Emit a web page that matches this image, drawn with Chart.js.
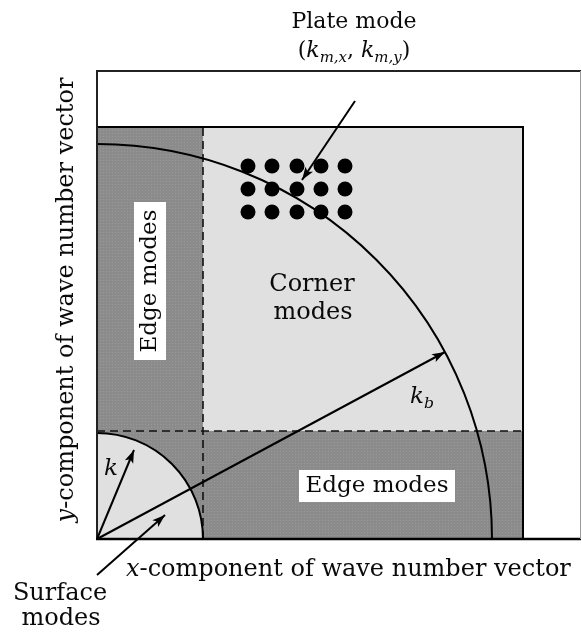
<!DOCTYPE html>
<html>
<head>
<meta charset="utf-8">
<script src="https://cdn.jsdelivr.net/npm/chart.js@4/dist/chart.umd.min.js"></script>
<style>
    html, body { margin: 0; padding: 0; background: #fff; }
</style>
</head>
<body>
<canvas id="modeChart" width="582" height="634"></canvas>
<script>
// Wave number plane, units are picture pixels measured from the origin
const axisMax = { x: 484, y: 468 };
const plateEdge = { x: 426, y: 412 };    // end of the shaded plate region
const edgeSplit = { x: 106, y: 108 };    // dashed lines
const surfaceRadius = 106;               // k circle
const bendingRadius = 395;               // kb circle
const plateKx = [151, 175, 200, 224, 248];
const plateKy = [373, 350, 327];
const kVector = [[0, 0], [37, 89]];
const kbVector = [[0, 0], [348, 187]];
const plateArrow = [[258, 438], [205, 359]];
const surfaceArrow = [[0, -36], [68, 24]];

const SERIF = '"DejaVu Serif"';
const DARK = '#8b8b8b';
const LIGHT = '#e0e0e0';
const INK = '#0a0a0a';

const plateModes = [];
plateKy.forEach(y => plateKx.forEach(x => plateModes.push({ x: x, y: y })));

function toPoints(pairs) {
    return pairs.map(p => ({ x: p[0], y: p[1] }));
}

function vectorDataset(pairs) {
    return {
        data: toPoints(pairs),
        showLine: true,
        borderColor: '#000',
        borderWidth: 2,
        pointRadius: 0,
        tension: 0,
        clip: false
    };
}

// dotted grey texture of the printed figure
function darkPattern(ctx) {
    const tile = document.createElement('canvas');
    tile.width = 3;
    tile.height = 3;
    const t = tile.getContext('2d');
    t.fillStyle = DARK;
    t.fillRect(0, 0, 3, 3);
    t.fillStyle = '#9a9a9a';
    t.fillRect(1, 1, 1, 1);
    return ctx.createPattern(tile, 'repeat');
}

// text made of roman / italic / subscript runs
function drawRuns(ctx, runs, x, y, size, align) {
    const fonts = runs.map(r => (r[1] ? 'italic ' : '') + (r[2] ? size * 0.68 : size) + 'px ' + SERIF);
    let width = 0;
    runs.forEach((r, i) => { ctx.font = fonts[i]; width += ctx.measureText(r[0]).width; });
    let cx = align === 'center' ? x - width / 2 : x;
    ctx.textAlign = 'left';
    ctx.textBaseline = 'middle';
    runs.forEach((r, i) => {
        ctx.font = fonts[i];
        ctx.fillText(r[0], cx, y + (r[2] ? size * 0.32 : 0));
        cx += ctx.measureText(r[0]).width;
    });
    return width;
}

function arrowHead(ctx, from, to) {
    const ang = Math.atan2(to.y - from.y, to.x - from.x);
    const len = 13, half = 4.5;
    ctx.save();
    ctx.translate(to.x, to.y);
    ctx.rotate(ang);
    ctx.beginPath();
    ctx.moveTo(0, 0);
    ctx.lineTo(-len, -half);
    ctx.lineTo(-len + 3, 0);
    ctx.lineTo(-len, half);
    ctx.closePath();
    ctx.fillStyle = '#000';
    ctx.fill();
    ctx.restore();
}

const planePlugin = {
    id: 'planePlugin',
    beforeDatasetsDraw(chart) {
        const ctx = chart.ctx;
        const xs = chart.scales.x, ys = chart.scales.y;
        const px = v => xs.getPixelForValue(v);
        const py = v => ys.getPixelForValue(v);
        const ox = px(0), oy = py(0);

        ctx.save();
        // edge mode bands
        ctx.fillStyle = darkPattern(ctx);
        ctx.fillRect(ox, py(plateEdge.y), px(plateEdge.x) - ox, oy - py(plateEdge.y));
        // corner modes
        ctx.fillStyle = LIGHT;
        ctx.fillRect(px(edgeSplit.x), py(plateEdge.y), px(plateEdge.x) - px(edgeSplit.x), py(edgeSplit.y) - py(plateEdge.y));
        // surface modes
        const rs = px(surfaceRadius) - ox;
        ctx.beginPath();
        ctx.moveTo(ox, oy);
        ctx.arc(ox, oy, rs, -Math.PI / 2, 0);
        ctx.closePath();
        ctx.fill();

        // dashed split lines
        ctx.strokeStyle = '#111';
        ctx.lineWidth = 1.6;
        ctx.setLineDash([8, 5]);
        ctx.beginPath();
        ctx.moveTo(px(edgeSplit.x), oy);
        ctx.lineTo(px(edgeSplit.x), py(plateEdge.y));
        ctx.moveTo(ox, py(edgeSplit.y));
        ctx.lineTo(px(plateEdge.x), py(edgeSplit.y));
        ctx.stroke();
        ctx.setLineDash([]);

        // circles k and kb
        ctx.strokeStyle = '#000';
        ctx.lineWidth = 2;
        ctx.beginPath();
        ctx.arc(ox, oy, rs, -Math.PI / 2, 0);
        ctx.stroke();
        ctx.beginPath();
        ctx.arc(ox, oy, px(bendingRadius) - ox, -Math.PI / 2, 0);
        ctx.stroke();

        // plate region border
        ctx.lineWidth = 2;
        ctx.beginPath();
        ctx.moveTo(ox, py(plateEdge.y));
        ctx.lineTo(px(plateEdge.x), py(plateEdge.y));
        ctx.lineTo(px(plateEdge.x), oy);
        ctx.stroke();

        // outer frame
        ctx.strokeStyle = '#222';
        ctx.beginPath();
        ctx.moveTo(px(axisMax.x), py(axisMax.y));
        ctx.lineTo(ox, py(axisMax.y));
        ctx.lineTo(ox, oy);
        ctx.stroke();
        ctx.lineWidth = 2.5;
        ctx.strokeStyle = '#000';
        ctx.beginPath();
        ctx.moveTo(ox - 1, oy);
        ctx.lineTo(px(axisMax.x), oy);
        ctx.stroke();
        ctx.lineWidth = 1;
        ctx.strokeStyle = '#999';
        ctx.beginPath();
        ctx.moveTo(px(axisMax.x) - 0.5, py(axisMax.y));
        ctx.lineTo(px(axisMax.x) - 0.5, oy);
        ctx.stroke();
        ctx.restore();
    },
    afterDatasetsDraw(chart) {
        const ctx = chart.ctx;
        const xs = chart.scales.x, ys = chart.scales.y;
        const pt = p => ({ x: xs.getPixelForValue(p[0]), y: ys.getPixelForValue(p[1]) });

        ctx.save();
        [kVector, kbVector, plateArrow, surfaceArrow].forEach(v => arrowHead(ctx, pt(v[0]), pt(v[1])));

        ctx.fillStyle = INK;
        // region labels
        let c = pt([215, 254]);
        drawRuns(ctx, [['Corner']], c.x, c.y, 24, 'center');
        c = pt([216, 226]);
        drawRuns(ctx, [['modes']], c.x, c.y, 24, 'center');

        c = pt([280, 53]);
        ctx.fillStyle = '#fff';
        ctx.fillRect(c.x - 78, c.y - 16, 156, 32);
        ctx.fillStyle = INK;
        drawRuns(ctx, [['Edge modes']], c.x, c.y, 23, 'center');

        c = pt([53, 258]);
        ctx.save();
        ctx.translate(c.x, c.y);
        ctx.rotate(-Math.PI / 2);
        ctx.fillStyle = '#fff';
        ctx.fillRect(-79, -16, 158, 32);
        ctx.fillStyle = INK;
        drawRuns(ctx, [['Edge modes']], 0, 0, 23, 'center');
        ctx.restore();

        c = pt([325, 142]);
        drawRuns(ctx, [['k', true], ['b', true, true]], c.x, c.y, 23, 'center');
        c = pt([14, 70]);
        drawRuns(ctx, [['k', true]], c.x, c.y, 23, 'center');

        // annotations outside the plane
        drawRuns(ctx, [['Plate mode']], 354, 22, 22, 'center');
        drawRuns(ctx, [['('], ['k', true], ['m,x', true, true], [', '], ['k', true], ['m,y', true, true], [')']], 354, 51, 22, 'center');
        drawRuns(ctx, [['Surface']], 60, 594, 24, 'center');
        drawRuns(ctx, [['modes']], 61, 619, 24, 'center');
        drawRuns(ctx, [['x', true], ['-component of wave number vector']], 126, 570, 24, 'left');

        ctx.translate(67, 300);
        ctx.rotate(-Math.PI / 2);
        drawRuns(ctx, [['y', true], ['-component of wave number vector']], 0, 0, 24, 'center');
        ctx.restore();
    }
};

const ctx = document.getElementById('modeChart').getContext('2d');
new Chart(ctx, {
    type: 'scatter',
    data: {
        datasets: [
            {
                data: plateModes,
                pointRadius: 7.5,
                pointStyle: 'circle',
                backgroundColor: '#000',
                borderWidth: 0
            },
            vectorDataset(kVector),
            vectorDataset(kbVector),
            vectorDataset(plateArrow),
            vectorDataset(surfaceArrow)
        ]
    },
    options: {
        responsive: false,
        animation: false,
        devicePixelRatio: 1,
        layout: { autoPadding: false, padding: { left: 97, top: 71, right: 1, bottom: 95 } },
        scales: {
            x: { type: 'linear', min: 0, max: axisMax.x, display: false },
            y: { type: 'linear', min: 0, max: axisMax.y, display: false }
        },
        plugins: {
            legend: { display: false },
            tooltip: { enabled: false }
        }
    },
    plugins: [planePlugin]
});
</script>
</body>
</html>
